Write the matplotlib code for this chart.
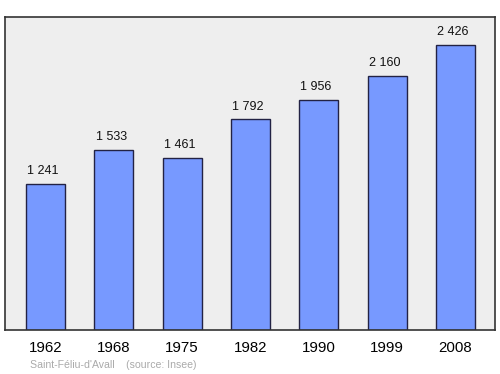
import matplotlib.pyplot as plt

plt.rcParams['font.family'] = ['Liberation Sans', 'DejaVu Sans']

years = ['1962', '1968', '1975', '1982', '1990', '1999', '2008']
population = [1241, 1533, 1461, 1792, 1956, 2160, 2426]
labels = ['1 241', '1 533', '1 461', '1 792', '1 956', '2 160', '2 426']

fig = plt.figure(figsize=(5, 3.74), dpi=100)
ax = fig.add_axes([0.01, 1 - 330 / 374, 0.98, 313 / 374])
ax.set_facecolor('#eeeeee')

x = range(len(years))
ax.bar(x, population, width=0.57, color='#7799ff', edgecolor='#222244', linewidth=1)

for i, (v, lab) in enumerate(zip(population, labels)):
    ax.text(i - 0.04, v + 110, lab, ha='center', va='center', fontsize=9, color='#111111')

ax.set_xlim(-0.593, 6.58)
ax.set_ylim(0, 2664)
ax.set_yticks([])
ax.set_xticks(list(x))
ax.set_xticklabels(years, fontsize=10.8)
ax.tick_params(axis='x', length=0, pad=8)
for s in ax.spines.values():
    s.set_color('#333333')
    s.set_linewidth(1.2)

fig.text(30 / 500, 1 - 365 / 374, "Saint-Féliu-d'Avall    (source: Insee)",
         fontsize=7.6, color='#aaaaaa', va='center', ha='left')

fig.savefig('out.png', dpi=100)
